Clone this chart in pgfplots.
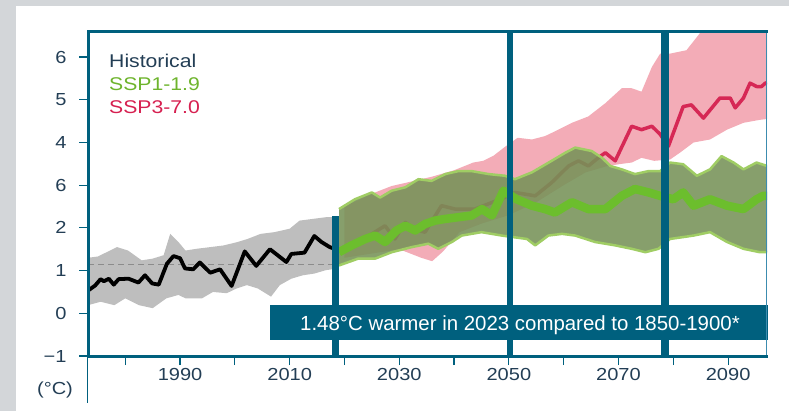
\documentclass[border=0pt]{standalone}
\usepackage{fontspec}
\setmainfont{Liberation Sans}
\newfontfamily\wide{Liberation Sans}[FakeStretch=1.15]
\usepackage{pgfplots}
\pgfplotsset{compat=1.18}
\definecolor{bggray}{RGB}{211,214,217}
\definecolor{tealc}{RGB}{0,96,126}
\definecolor{tealr}{RGB}{60,140,175}
\definecolor{labcol}{RGB}{35,62,85}
\definecolor{histband}{RGB}{190,190,190}
\definecolor{dashc}{RGB}{140,140,140}
\definecolor{pinkband}{RGB}{243,172,183}
\definecolor{redline}{RGB}{214,40,85}
\definecolor{greenband}{RGB}{118,146,88}
\definecolor{greenedge}{RGB}{160,205,100}
\definecolor{greenline}{RGB}{108,190,45}
\definecolor{sspgreen}{RGB}{110,180,45}
\definecolor{sspred}{RGB}{214,32,80}
\begin{document}
\begin{tikzpicture}[x=1bp,y=1bp]
\fill[bggray] (0,0) rectangle (16,411);
\fill[bggray] (0,405) rectangle (789,411);
\begin{axis}[
  at={(88bp,55bp)}, anchor=south west,
  width=679bp, height=325bp, scale only axis,
  xmin=1973.2, xmax=2097.1, ymin=-1, ymax=6.61,
  axis line style={draw=none},
  xtick={1980,1990,...,2090},
  xticklabels={,1990,,2010,,2030,,2050,,2070,,2090},
  ytick={-1,0,1,2,3,4,5,6},
  yticklabels={−1,0,1,2,6,4,5,6},
  tick align=outside, xtick pos=bottom, ytick pos=left,
  major tick length=9bp,
  tick style={draw=tealc, line width=1.2bp},
  ticklabel style={font=\wide\fontsize{17.5}{19}\selectfont, text=labcol},
  yticklabel style={xshift=-9bp},
]
% Historical band (upper edge, then lower edge reversed)
\addplot[fill=histband, draw=none] coordinates {
(1973.2,1.30)(1975,1.33)(1978.5,1.55)(1980.5,1.47)(1983,1.24)(1985,1.28)(1987,1.36)
(1988.2,1.86)(1989.7,1.67)(1991,1.47)(1993,1.51)(1995.5,1.55)(1998,1.59)(2000.5,1.67)
(2002.3,1.74)(2004.7,1.86)(2007.2,1.90)(2010,1.98)(2011.8,2.17)(2014.2,2.21)(2016.6,2.25)(2018.8,2.25)
(2018.8,1.05)(2016.6,1.01)(2014.5,0.93)(2012.4,0.89)(2010.3,0.81)(2008.2,0.66)(2006.6,0.39)
(2004.2,0.58)(2002.2,0.66)(2000.3,0.58)(1998.5,0.47)(1996,0.50)(1994,0.35)(1991,0.35)
(1989.7,0.43)(1987.5,0.35)(1985,0.12)(1982.5,0.19)(1980,0.35)(1978,0.19)(1975.5,0.27)(1973.2,0.19)};
\addplot[dashc, line width=1bp, dash pattern=on 6bp off 4bp] coordinates {(1973.2,1.15)(2018.8,1.15)};
\addplot[black, line width=3.8bp, line join=round] coordinates {
(1973.3,0.54)(1974.5,0.65)(1975.5,0.80)(1976.1,0.75)(1977.0,0.81)(1977.9,0.67)(1978.8,0.80)
(1980.6,0.81)(1982.4,0.72)(1983.6,0.89)(1984.9,0.70)(1986.1,0.67)(1987.6,1.16)(1988.8,1.34)
(1990.0,1.29)(1990.9,1.05)(1992.4,1.03)(1993.6,1.19)(1995.5,0.95)(1997.3,1.03)(1999.4,0.64)
(2001.8,1.45)(2003.9,1.11)(2006.4,1.50)(2008.2,1.32)(2009.4,1.20)(2010.3,1.39)(2012.7,1.42)
(2014.5,1.81)(2015.8,1.67)(2017.3,1.55)(2018.5,1.50)};
% SSP3-7.0 band
\addplot[fill=pinkband, draw=none] coordinates {
(2020,2.50)(2025,2.80)(2028.6,2.98)(2031,3.05)(2036,3.20)(2040,3.35)(2043.5,3.53)(2045.3,3.57)
(2047.2,3.69)(2049.1,3.88)(2051.6,4.11)(2054.2,4.07)(2056.6,4.15)(2058.4,4.26)(2061.5,4.46)
(2064.5,4.61)(2067.6,4.92)(2070.6,5.27)(2072.4,5.27)(2074.2,5.19)(2076.1,5.77)(2077.6,6.08)
(2079.4,6.08)(2082.4,6.16)(2084.8,6.55)(2086,6.9)(2097.1,7.2)
(2097.1,4.55)(2095.8,4.53)(2092.8,4.46)(2089.8,4.30)(2086.7,4.07)(2083.7,4.00)(2081.2,3.76)
(2079.4,3.60)(2076.5,3.57)(2074.2,3.64)(2072.4,3.53)(2070.6,3.50)(2068,3.45)(2064,3.30)
(2060,3.00)(2055,2.60)(2050,2.30)(2045,2.10)(2041,1.90)(2038,1.45)(2036,1.22)(2034,1.30)
(2030,1.50)(2025,1.40)(2020,1.30)};
\addplot[redline, line width=3.5bp, line join=round] coordinates {
(2020,1.50)(2023,1.70)(2027.4,2.05)(2029.2,1.74)(2031.1,2.13)(2033,1.95)(2034.7,1.90)
(2037.7,2.52)(2040.2,2.44)(2043.8,2.44)(2046,2.55)(2049,2.70)(2051.1,2.83)(2054.8,2.75)
(2057.8,3.06)(2060.9,3.45)(2062.7,3.57)(2064.5,3.45)(2066.3,3.64)(2067.6,3.76)(2069.4,3.57)
(2072.4,4.38)(2074.2,4.30)(2076.1,4.38)(2077.6,4.19)(2079.1,3.91)(2081.8,4.84)(2083.3,4.88)
(2085.5,4.57)(2088.5,5.04)(2090.4,5.04)(2091.3,4.81)(2092.8,5.04)(2094.0,5.39)(2095.2,5.31)
(2096.1,5.31)(2096.8,5.39)(2097.1,5.40)};
% SSP1-1.9 band
\addplot[fill=greenband, fill opacity=0.88, draw=none] coordinates {
(2019.0,2.44)(2021.9,2.67)(2025.0,2.83)(2026.5,2.71)(2028.6,2.87)(2031.1,2.95)(2033.5,3.14)
(2035.9,3.10)(2038.4,3.26)(2040.8,3.33)(2043.2,3.33)(2046.3,3.26)(2049.3,3.22)(2051.1,3.14)
(2054.2,3.30)(2057.8,3.57)(2060.3,3.76)(2062.1,3.88)(2065.1,3.80)(2067.0,3.64)(2068.5,3.45)
(2070.6,3.37)(2073.0,3.26)(2075.5,3.33)(2077.6,3.33)(2079.4,3.53)(2081.8,3.49)(2084.3,3.22)
(2086.7,3.37)(2088.8,3.68)(2091.0,3.53)(2092.8,3.37)(2095.2,3.53)(2097.1,3.45)
(2097.1,1.43)(2095.8,1.43)(2092.8,1.51)(2089.8,1.67)(2086.7,1.90)(2083.7,1.82)(2079.4,1.74)
(2077.3,1.51)(2074.9,1.43)(2072.4,1.51)(2069.4,1.59)(2065.7,1.67)(2062.1,1.82)(2059.7,1.86)
(2057.2,1.82)(2054.8,1.59)(2053.3,1.74)(2048.7,1.82)(2045.0,1.90)(2041.4,1.82)(2039.6,1.67)
(2037.1,1.51)(2035.3,1.63)(2032.3,1.55)(2028.6,1.43)(2025.6,1.28)(2022.5,1.28)(2019.0,1.12)};
\addplot[greenedge, line width=2.5bp, line join=round] coordinates {
(2019.0,2.44)(2021.9,2.67)(2025.0,2.83)(2026.5,2.71)(2028.6,2.87)(2031.1,2.95)(2033.5,3.14)
(2035.9,3.10)(2038.4,3.26)(2040.8,3.33)(2043.2,3.33)(2046.3,3.26)(2049.3,3.22)(2051.1,3.14)
(2054.2,3.30)(2057.8,3.57)(2060.3,3.76)(2062.1,3.88)(2065.1,3.80)(2067.0,3.64)(2068.5,3.45)
(2070.6,3.37)(2073.0,3.26)(2075.5,3.33)(2077.6,3.33)(2079.4,3.53)(2081.8,3.49)(2084.3,3.22)
(2086.7,3.37)(2088.8,3.68)(2091.0,3.53)(2092.8,3.37)(2095.2,3.53)(2097.1,3.45)};
\addplot[greenedge, line width=2.5bp, line join=round] coordinates {
(2019.0,1.12)(2022.5,1.28)(2025.6,1.28)(2028.6,1.43)(2032.3,1.55)(2035.3,1.63)(2037.1,1.51)
(2039.6,1.67)(2041.4,1.82)(2045.0,1.90)(2048.7,1.82)(2053.3,1.74)(2054.8,1.59)(2057.2,1.82)
(2059.7,1.86)(2062.1,1.82)(2065.7,1.67)(2069.4,1.59)(2072.4,1.51)(2074.9,1.43)(2077.3,1.51)
(2079.4,1.74)(2083.7,1.82)(2086.7,1.90)(2089.8,1.67)(2092.8,1.51)(2095.8,1.43)(2097.1,1.43)};
\addplot[greenline, line width=8.5bp, line join=round] coordinates {
(2019.0,1.43)(2021.3,1.59)(2023.8,1.74)(2025.6,1.82)(2027.4,1.67)(2029.5,1.94)(2031.1,2.05)
(2032.9,1.94)(2034.7,2.09)(2036.5,2.17)(2038.4,2.21)(2040.8,2.25)(2043.2,2.29)(2045.1,2.44)
(2046.9,2.29)(2049.0,2.87)(2051.4,2.67)(2054.2,2.52)(2056.6,2.44)(2058.4,2.36)(2061.5,2.60)
(2064.5,2.44)(2067.6,2.44)(2070.6,2.75)(2073.0,2.91)(2075.5,2.83)(2077.6,2.75)(2080.0,2.67)
(2081.8,2.83)(2083.7,2.52)(2086.7,2.67)(2089.8,2.52)(2092.8,2.44)(2095.2,2.67)(2096.4,2.75)(2097.1,2.75)};
\end{axis}
% vertical bars
\fill[tealc] (332,55) rectangle (339,195);
\fill[tealc] (507,55) rectangle (513,380);
\fill[tealc] (661,55) rectangle (669,380);
% annotation box
\fill[tealc] (270,71) rectangle (768,106);
\node[anchor=base, text=white, inner sep=0, font=\fontsize{20.5}{22}\selectfont] at (520,81) {1.48°C warmer in 2023 compared to 1850-1900*};
% frame
\draw[tealr, line width=1.8bp] (766.5,55) -- (766.5,380);
\draw[tealc, line width=3bp] (87,379.5) -- (767.5,379.5);
\draw[tealc, line width=3bp] (88.5,55) -- (767.5,55);
\draw[tealc, line width=3bp] (88.5,53.5) -- (88.5,381);
\draw[tealc, line width=1.3bp] (87.6,54) -- (87.6,8);
% legend
\node[anchor=base west, inner sep=0, text=labcol, font=\wide\fontsize{18.5}{20}\selectfont] at (109,344) {Historical};
\node[anchor=base west, inner sep=0, text=sspgreen, font=\wide\fontsize{18.5}{20}\selectfont] at (109,321) {SSP1-1.9};
\node[anchor=base west, inner sep=0, text=sspred, font=\wide\fontsize{18.5}{20}\selectfont] at (109,298) {SSP3-7.0};
\node[text=labcol, inner sep=0, font=\wide\fontsize{17.5}{19}\selectfont] at (55,21) {(°C)};
\pgfresetboundingbox
\path[use as bounding box] (0,0) rectangle (789,411);
\end{tikzpicture}
\end{document}
